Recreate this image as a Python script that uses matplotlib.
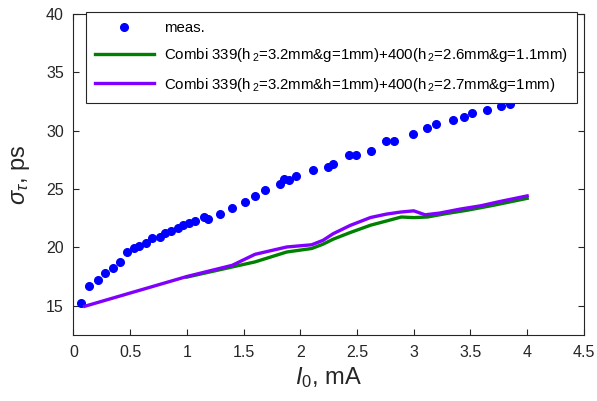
import matplotlib
matplotlib.use("Agg")
import matplotlib.pyplot as plt

plt.rcParams['font.family'] = ['Liberation Sans', 'DejaVu Sans']
plt.rcParams['mathtext.fontset'] = 'custom'
plt.rcParams['mathtext.rm'] = 'Liberation Sans'
plt.rcParams['mathtext.it'] = 'Liberation Sans:italic'

# measured bunch length vs current
meas_I = [0.07, 0.14, 0.22, 0.28, 0.35, 0.41, 0.47, 0.53, 0.58, 0.64, 0.69, 0.76,
          0.81, 0.86, 0.92, 0.97, 1.02, 1.07, 1.15, 1.19, 1.29, 1.40, 1.51, 1.60,
          1.69, 1.82, 1.86, 1.90, 1.96, 2.11, 2.24, 2.29, 2.43, 2.49, 2.62, 2.76,
          2.83, 2.99, 3.12, 3.20, 3.35, 3.44, 3.51, 3.65, 3.77, 3.85]
meas_s = [15.27, 16.67, 17.24, 17.81, 18.24, 18.78, 19.61, 19.91, 20.15, 20.40, 20.80, 20.89,
          21.26, 21.43, 21.68, 21.94, 22.09, 22.22, 22.62, 22.39, 22.88, 23.33, 23.88, 24.36,
          24.93, 25.47, 25.87, 25.76, 26.15, 26.67, 26.90, 27.15, 27.92, 27.88, 28.26, 29.15,
          29.15, 29.70, 30.21, 30.58, 30.90, 31.18, 31.49, 31.75, 32.09, 32.31]

# simulation 1 (green)
sim1_I = [1.0, 1.40, 1.60, 1.88, 2.10, 2.20, 2.29, 2.44, 2.62, 2.76, 2.89, 3.00, 3.12,
          3.29, 3.47, 3.70, 4.0]
sim1_s = [17.45, 18.32, 18.75, 19.6, 19.9, 20.27, 20.70, 21.27, 21.9, 22.26, 22.6, 22.55,
          22.6, 22.9, 23.18, 23.6, 24.2]

# simulation 2 (purple)
sim2_I = [0.1, 1.0, 1.40, 1.60, 1.88, 2.10, 2.20, 2.29, 2.44, 2.62, 2.76, 2.88, 3.00,
          3.10, 3.23, 3.41, 3.59, 3.76, 4.0]
sim2_s = [14.95, 17.5, 18.46, 19.4, 20.03, 20.22, 20.6, 21.17, 21.88, 22.56, 22.85, 23.02,
          23.13, 22.79, 22.94, 23.28, 23.56, 23.93, 24.41]

labels = ['meas.',
          'Combi 339(h$\\,_{2}$=3.2mm&g=1mm)+400(h$\\,_{2}$=2.6mm&g=1.1mm)',
          'Combi 339(h$\\,_{2}$=3.2mm&h=1mm)+400(h$\\,_{2}$=2.7mm&g=1mm)']

fig = plt.figure(figsize=(5.97, 4.01), dpi=100)
ax = fig.add_axes([0.123, 0.165, 0.855, 0.800])

ax.plot(meas_I, meas_s, 'o', color='#0000ff', markersize=5.5, label=labels[0])
ax.plot(sim1_I, sim1_s, '-', color='#008000', lw=2.4, label=labels[1])
ax.plot(sim2_I, sim2_s, '-', color='#8000ff', lw=2.4, label=labels[2])

ax.set_xlim(0, 4.5)
ax.set_ylim(12.5, 40)
ax.set_xticks([0, 0.5, 1, 1.5, 2, 2.5, 3, 3.5, 4, 4.5])
ax.set_xticklabels(['0', '0.5', '1', '1.5', '2', '2.5', '3', '3.5', '4', '4.5'])
ax.set_yticks([15, 20, 25, 30, 35, 40])
ax.tick_params(direction='in', top=True, right=True, labelsize=11.5,
               colors='#262626', length=4, pad=7)
for s in ax.spines.values():
    s.set_color('#262626')
    s.set_linewidth(0.8)

ax.set_xlabel('$I_{\\mathit{0}}$, mA', fontsize=17, color='#262626', labelpad=4)
ax.set_ylabel('$\\sigma_{\\tau}$, ps', fontsize=17, color='#262626', labelpad=10)

leg = ax.legend(loc='upper left', bbox_to_anchor=(0.025, 1.006), borderaxespad=0,
                fontsize=10.8, handlelength=3.9, handletextpad=0.7, borderpad=0.6,
                labelspacing=0.75, fancybox=False, framealpha=1, edgecolor='#262626')
leg.get_frame().set_linewidth(0.8)

fig.savefig('out.png', dpi=100)
